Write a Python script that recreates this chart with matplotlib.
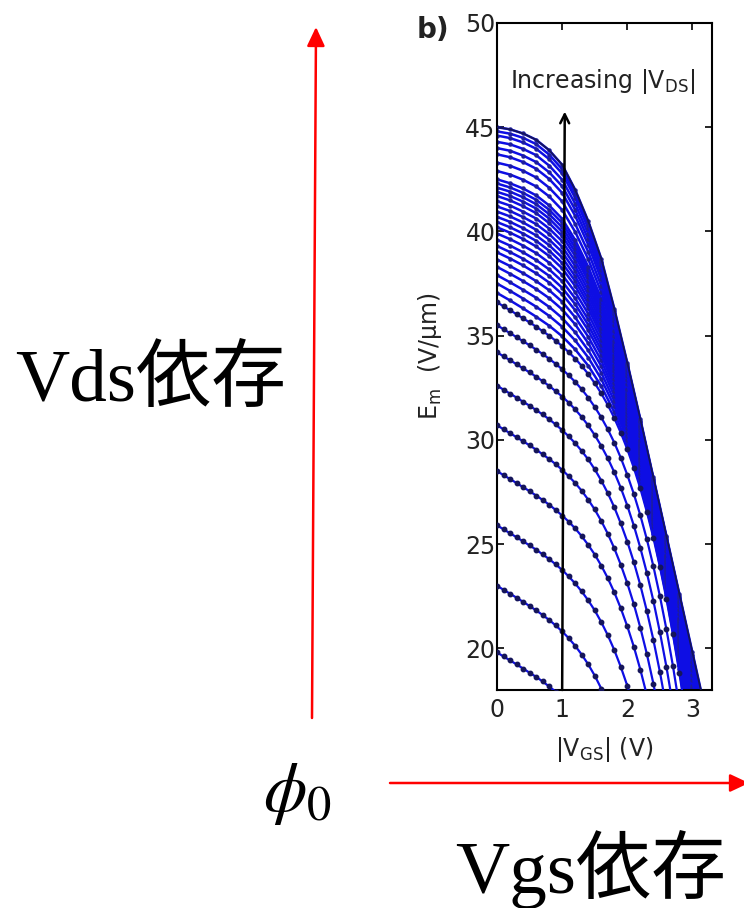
import matplotlib
matplotlib.use("Agg")
import matplotlib.pyplot as plt
from matplotlib.patches import FancyArrowPatch, ArrowStyle

# ---------------------------------------------------------------------------
# Data: maximum channel field E_m versus |V_GS|, one curve per |V_DS| step
# ---------------------------------------------------------------------------
vgs_fine = [0.0, 0.1, 0.2, 0.3, 0.4, 0.5, 0.6, 0.7, 0.8, 0.9,
            1.0, 1.1, 1.2, 1.3, 1.4, 1.5, 1.6, 1.7, 1.8, 1.9,
            2.0, 2.1, 2.2, 2.3, 2.4, 2.5, 2.6, 2.7, 2.8, 2.9]
vgs_coarse = [0.0, 0.2, 0.4, 0.6, 0.8, 1.0, 1.2, 1.4, 1.6, 1.8,
              2.0, 2.2, 2.4, 2.6, 2.8, 3.0, 3.2]

# lower |V_DS| curves (sampled every 0.1 V)
em_vds01 = [19.80, 19.61, 19.42, 19.23, 19.03, 18.83, 18.63, 18.41, 18.17, 17.92]
em_vds02 = [23.00, 22.81, 22.62, 22.43, 22.23, 22.03, 21.82, 21.60, 21.36, 21.10,
            20.81, 20.49, 20.12, 19.70, 19.23, 18.69, 18.07, 17.36]
em_vds03 = [25.90, 25.71, 25.52, 25.33, 25.13, 24.94, 24.73, 24.51, 24.28, 24.03,
            23.76, 23.45, 23.11, 22.73, 22.30, 21.82, 21.26, 20.63, 19.92, 19.11,
            18.20, 17.17]
em_vds04 = [28.50, 28.31, 28.12, 27.93, 27.73, 27.54, 27.33, 27.12, 26.89, 26.64,
            26.37, 26.08, 25.75, 25.38, 24.96, 24.50, 23.97, 23.37, 22.69, 21.92,
            21.05, 20.08, 18.98, 17.75]
em_vds05 = [30.70, 30.51, 30.32, 30.13, 29.93, 29.74, 29.53, 29.31, 29.08, 28.84,
            28.56, 28.26, 27.93, 27.56, 27.13, 26.66, 26.11, 25.50, 24.80, 24.01,
            23.12, 22.12, 20.99, 19.73, 18.31, 16.73]
em_vds06 = [32.60, 32.41, 32.22, 32.03, 31.83, 31.64, 31.43, 31.22, 30.99, 30.74,
            30.47, 30.17, 29.84, 29.47, 29.06, 28.59, 28.05, 27.45, 26.77, 25.99,
            25.12, 24.14, 23.03, 21.79, 20.41, 18.87, 17.15]
em_vds07 = [34.20, 34.01, 33.82, 33.63, 33.43, 33.24, 33.03, 32.82, 32.59, 32.34,
            32.08, 31.79, 31.46, 31.10, 30.69, 30.23, 29.71, 29.12, 28.45, 27.70,
            26.85, 25.89, 24.82, 23.62, 22.28, 20.78, 19.12, 17.27]
em_vds08 = [35.50, 35.31, 35.12, 34.93, 34.73, 34.54, 34.33, 34.12, 33.89, 33.65,
            33.39, 33.10, 32.78, 32.43, 32.03, 31.58, 31.08, 30.51, 29.87, 29.14,
            28.32, 27.41, 26.38, 25.23, 23.94, 22.51, 20.92, 19.16, 17.21]
em_vds09 = [36.60, 36.41, 36.22, 36.03, 35.83, 35.64, 35.43, 35.22, 35.00, 34.76,
            34.50, 34.21, 33.90, 33.55, 33.16, 32.72, 32.23, 31.68, 31.05, 30.34,
            29.55, 28.66, 27.67, 26.55, 25.31, 23.92, 22.38, 20.68, 18.80, 16.73]

# higher |V_DS| curves (sampled every 0.2 V)
em_vds10 = [37.05, 36.69, 36.31, 35.91, 35.48, 34.97, 34.34, 33.56, 32.58, 31.33,
            29.77, 27.85, 25.47, 22.54, 19.01, 14.75]
em_vds11 = [37.50, 37.15, 36.78, 36.39, 35.95, 35.43, 34.77, 33.95, 32.92, 31.61,
            29.99, 28.03, 25.62, 22.70, 19.21, 15.03]
em_vds12 = [37.90, 37.56, 37.20, 36.82, 36.38, 35.85, 35.16, 34.30, 33.23, 31.86,
            30.19, 28.19, 25.76, 22.85, 19.39, 15.29]
em_vds13 = [38.30, 37.97, 37.62, 37.24, 36.80, 36.26, 35.54, 34.64, 33.54, 32.11,
            30.39, 28.34, 25.89, 22.99, 19.57, 15.54]
em_vds14 = [38.65, 38.34, 38.00, 37.62, 37.18, 36.63, 35.88, 34.95, 33.81, 32.33,
            30.57, 28.48, 26.02, 23.12, 19.73, 15.77]
em_vds15 = [39.00, 38.70, 38.37, 37.99, 37.55, 36.99, 36.22, 35.26, 34.08, 32.55,
            30.74, 28.62, 26.14, 23.24, 19.89, 15.99]
em_vds16 = [39.30, 39.01, 38.69, 38.31, 37.87, 37.30, 36.51, 35.52, 34.31, 32.74,
            30.89, 28.74, 26.24, 23.35, 20.03, 16.18]
em_vds17 = [39.60, 39.32, 39.00, 38.63, 38.18, 37.61, 36.79, 35.78, 34.54, 32.92,
            31.03, 28.86, 26.34, 23.46, 20.16, 16.37]
em_vds18 = [39.90, 39.63, 39.32, 38.96, 38.50, 37.92, 37.09, 36.05, 34.78, 33.11,
            31.18, 28.98, 26.45, 23.57, 20.30, 16.56]
em_vds19 = [40.20, 39.94, 39.64, 39.28, 38.82, 38.23, 37.38, 36.31, 35.01, 33.30,
            31.33, 29.10, 26.55, 23.68, 20.43, 16.75]
em_vds20 = [40.45, 40.20, 39.90, 39.55, 39.08, 38.49, 37.62, 36.53, 35.20, 33.46,
            31.46, 29.20, 26.64, 23.77, 20.54, 16.91]
em_vds21 = [40.70, 40.46, 40.16, 39.81, 39.34, 38.75, 37.85, 36.74, 35.39, 33.61,
            31.58, 29.30, 26.72, 23.85, 20.65, 17.07]
em_vds22 = [40.95, 40.72, 40.43, 40.08, 39.61, 39.01, 38.10, 36.96, 35.59, 33.77,
            31.70, 29.40, 26.81, 23.95, 20.77, 17.23]
em_vds23 = [41.20, 40.98, 40.69, 40.35, 39.88, 39.27, 38.34, 37.18, 35.78, 33.93,
            31.82, 29.50, 26.89, 24.04, 20.88, 17.39]
em_vds24 = [41.45, 41.24, 40.95, 40.62, 40.14, 39.53, 38.58, 37.40, 35.97, 34.09,
            31.95, 29.60, 26.98, 24.13, 21.00, 17.55]
em_vds25 = [41.70, 41.49, 41.21, 40.88, 40.40, 39.78, 38.82, 37.62, 36.16, 34.24,
            32.07, 29.69, 27.06, 24.21, 21.11, 17.70]
em_vds26 = [41.90, 41.70, 41.43, 41.10, 40.62, 39.99, 39.02, 37.80, 36.32, 34.37,
            32.17, 29.77, 27.13, 24.29, 21.20, 17.83]
em_vds27 = [42.10, 41.91, 41.64, 41.31, 40.83, 40.20, 39.21, 37.97, 36.47, 34.49,
            32.27, 29.85, 27.20, 24.36, 21.29, 17.96]
em_vds28 = [42.30, 42.11, 41.85, 41.52, 41.04, 40.41, 39.40, 38.14, 36.62, 34.62,
            32.37, 29.93, 27.27, 24.43, 21.38, 18.09, 14.50]
em_vds29 = [42.50, 42.31, 42.06, 41.73, 41.25, 40.61, 39.59, 38.31, 36.77, 34.74,
            32.46, 30.01, 27.34, 24.50, 21.47, 18.21, 14.69]
em_vds30 = [42.90, 42.73, 42.48, 42.16, 41.68, 41.03, 39.98, 38.67, 37.08, 34.99,
            32.66, 30.17, 27.48, 24.65, 21.65, 18.47, 15.06]
em_vds31 = [43.30, 43.15, 42.91, 42.59, 42.10, 41.44, 40.36, 39.02, 37.39, 35.24,
            32.86, 30.33, 27.62, 24.79, 21.83, 18.72, 15.43]
em_vds32 = [43.70, 43.56, 43.33, 43.01, 42.52, 41.85, 40.75, 39.36, 37.70, 35.49,
            33.06, 30.48, 27.75, 24.93, 22.01, 18.97, 15.80]
em_vds33 = [44.00, 43.87, 43.64, 43.33, 42.84, 42.17, 41.04, 39.63, 37.93, 35.68,
            33.21, 30.60, 27.86, 25.04, 22.15, 19.17, 16.08]
em_vds34 = [44.30, 44.18, 43.96, 43.66, 43.16, 42.48, 41.33, 39.89, 38.16, 35.86,
            33.36, 30.72, 27.96, 25.15, 22.29, 19.36, 16.36]
em_vds35 = [44.60, 44.48, 44.27, 43.97, 43.47, 42.78, 41.61, 40.15, 38.39, 36.05,
            33.50, 30.84, 28.06, 25.26, 22.42, 19.54, 16.63]
em_vds36 = [44.80, 44.69, 44.49, 44.19, 43.69, 42.99, 41.81, 40.32, 38.55, 36.17,
            33.60, 30.92, 28.13, 25.33, 22.51, 19.67, 16.81]
em_vds37 = [45.00, 44.90, 44.70, 44.40, 43.90, 43.20, 42.00, 40.50, 38.70, 36.30,
            33.70, 31.00, 28.20, 25.40, 22.60, 19.80, 17.00]

x_ticks = [0, 1, 2, 3]
y_ticks = [20, 25, 30, 35, 40, 45, 50]

lower_family = [em_vds01, em_vds02, em_vds03, em_vds04, em_vds05,
                em_vds06, em_vds07, em_vds08, em_vds09]
upper_family = [em_vds10, em_vds11, em_vds12, em_vds13, em_vds14, em_vds15,
                em_vds16, em_vds17, em_vds18, em_vds19, em_vds20, em_vds21,
                em_vds22, em_vds23, em_vds24, em_vds25, em_vds26, em_vds27,
                em_vds28, em_vds29, em_vds30, em_vds31, em_vds32, em_vds33,
                em_vds34, em_vds35, em_vds36, em_vds37]

# ---------------------------------------------------------------------------
# Figure
# ---------------------------------------------------------------------------
W, H = 744, 908
plt.rcParams['font.family'] = ['DejaVu Sans']
plt.rcParams['mathtext.fontset'] = 'custom'
plt.rcParams['mathtext.rm'] = 'DejaVu Sans'
plt.rcParams['mathtext.it'] = 'DejaVu Sans:italic'


def fx(x):
    return x / W


def fy(y):
    return 1 - y / H


fig = plt.figure(figsize=(W / 100, H / 100), dpi=100)
fig.patch.set_facecolor('white')

ax = fig.add_axes([fx(497), fy(690), 215 / W, 667 / H])

BLUE = '#0e0ee4'
NAVY = '#15155a'

# densely packed high-V_DS curves merging into a band
for em in upper_family:
    ax.plot(vgs_coarse[:len(em)], em, '-', color=BLUE, lw=1.8, marker='o',
            ms=2.2, mfc='#1e1e9c', mec='#1e1e9c', zorder=2)
# outer edge of the band
ax.plot(vgs_coarse[:len(em_vds37)], em_vds37, '-', color=NAVY, lw=1.3, zorder=3)

# well separated low-V_DS curves with their sample points
for em in lower_family:
    ax.plot(vgs_fine[:len(em)], em, '-', color=BLUE, lw=1.6, marker='o',
            ms=3.2, mfc=NAVY, mec=NAVY, zorder=3)

ax.set_xlim(0, 3.3)
ax.set_ylim(18, 50)
ax.set_xticks(x_ticks)
ax.set_yticks(y_ticks)
ax.tick_params(direction='in', top=True, right=True, length=5, width=1.2,
               labelsize=17, labelcolor='#222222')
ax.tick_params(axis='x', pad=6)
ax.tick_params(axis='y', pad=1)
for s in ax.spines.values():
    s.set_linewidth(1.5)

ax.set_xlabel('|V$_{\\rm GS}$| (V)', fontsize=17, color='#222222')
ax.xaxis.set_label_coords(0.5, -0.068)
ax.set_ylabel('E$_{\\rm m}$  (V/\u03bcm)', fontsize=17, color='#222222')
ax.yaxis.set_label_coords(-0.245, 0.5)

# "Increasing |V_DS|" arrow
ax.annotate('', xy=(1.04, 45.75), xytext=(1.0, 18.0),
            arrowprops=dict(arrowstyle='->', lw=1.8, color='black',
                            mutation_scale=16, shrinkA=0, shrinkB=0),
            annotation_clip=False, zorder=5)
fig.text(fx(510), fy(88), 'Increasing |V$_{\\rm DS}$|', fontsize=17,
         color='#222222', ha='left', va='baseline')
fig.text(fx(417), fy(38), 'b)', fontsize=20, fontweight='bold',
         color='#222222', ha='left', va='baseline')

# ---------------------------------------------------------------------------
# Red guide arrows and annotations
# ---------------------------------------------------------------------------
head = ArrowStyle('-|>', head_length=11.5, head_width=5.4)
v_arrow = FancyArrowPatch((fx(312), fy(718)), (fx(316), fy(27)),
                          transform=fig.transFigure, arrowstyle=head,
                          mutation_scale=1, color='#ff0000', lw=1.8,
                          shrinkA=0, shrinkB=0)
h_arrow = FancyArrowPatch((fx(390), fy(783)), (fx(749), fy(783)),
                          transform=fig.transFigure, arrowstyle=head,
                          mutation_scale=1, color='#ff0000', lw=1.8,
                          shrinkA=0, shrinkB=0)
fig.add_artist(v_arrow)
fig.add_artist(h_arrow)

cjk = ['Liberation Serif', 'Noto Sans CJK JP']
fig.text(fx(15), fy(401), 'Vds依存', fontsize=54, family=cjk,
         ha='left', va='baseline', color='black')
fig.text(fx(455), fy(893), 'Vgs依存', fontsize=54, family=cjk,
         ha='left', va='baseline', color='black')
fig.text(fx(263), fy(811), r'$\phi_0$', fontsize=50, math_fontfamily='stix',
         ha='left', va='baseline', color='black')

fig.savefig('out.png', dpi=100, facecolor='white')
